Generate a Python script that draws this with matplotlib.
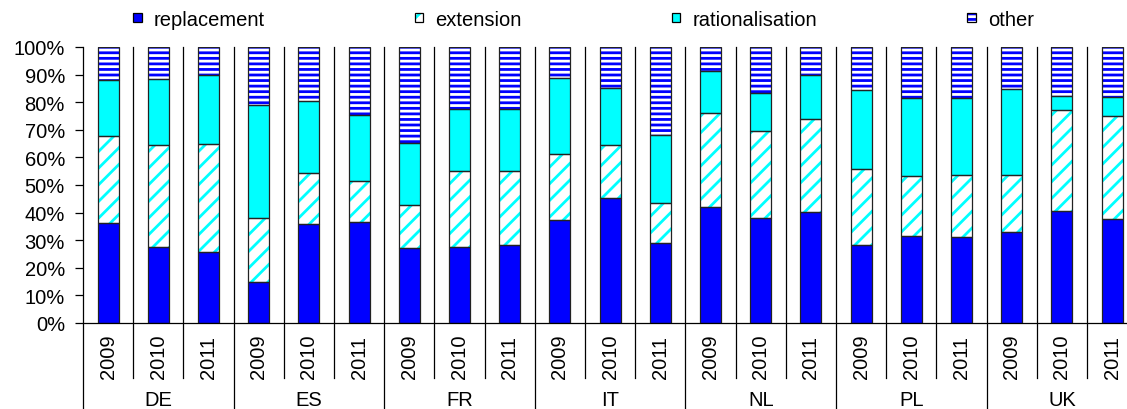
import numpy as np
import matplotlib.pyplot as plt
from matplotlib.patches import Patch
from matplotlib.transforms import blended_transform_factory

plt.rcParams['font.family'] = ['Liberation Sans', 'DejaVu Sans']
plt.rcParams['hatch.linewidth'] = 2.0

countries = ['DE', 'ES', 'FR', 'IT', 'NL', 'PL', 'UK']
years = ['2009', '2010', '2011']

# shares in %, one entry per country/year (DE 2009 ... UK 2011)
replacement = [36.2, 27.4, 25.6, 14.8, 35.7, 36.5, 27.1, 27.4, 28.1, 37.4, 45.3,
               28.9, 42.0, 38.1, 40.1, 28.1, 31.4, 31.1, 32.9, 40.5, 37.6]
extension = [31.6, 37.2, 39.3, 23.2, 18.8, 14.8, 15.8, 27.5, 26.8, 23.9, 19.3,
             14.4, 33.9, 31.3, 33.8, 27.6, 21.9, 22.6, 20.8, 36.6, 37.4]
rationalisation = [20.1, 23.8, 24.8, 41.1, 25.8, 24.2, 22.4, 22.5, 22.5, 27.5, 20.5,
                   24.9, 15.3, 14.0, 15.8, 28.6, 28.2, 27.8, 30.9, 5.1, 6.9]
other = [12.1, 11.6, 10.3, 20.9, 19.7, 24.5, 34.7, 22.6, 22.6, 11.2, 14.9,
         31.8, 8.8, 16.6, 10.3, 15.7, 18.5, 18.5, 15.4, 17.8, 18.1]

series = [
    ('replacement', replacement, '#0000FF', '#0000FF', None),
    ('extension', extension, 'white', '#00FFFF', '//'),
    ('rationalisation', rationalisation, '#00FFFF', '#00FFFF', None),
    ('other', other, 'white', '#0000FF', '---'),
]

FS = 14.5
n = len(countries) * len(years)
x = np.arange(n)
width = 0.42

fig = plt.figure(figsize=(11.27, 4.10), dpi=100)
ax = fig.add_axes([0.0736, 0.2098, 0.9355, 0.6732])

bottom = np.zeros(n)
handles = []
for name, vals, face, hcol, hatch in series:
    vals = np.array(vals)
    # fill + hatch in the series colour, then a dark outline on top
    ax.bar(x, vals, width, bottom=bottom, color=face, edgecolor=hcol,
           hatch=hatch, linewidth=0, zorder=2)
    ax.bar(x, vals, width, bottom=bottom, fill=False, edgecolor='#222222',
           linewidth=0.9, zorder=3)
    bottom += vals
    handles.append((Patch(facecolor=face, edgecolor=hcol, hatch=hatch, linewidth=0),
                    Patch(fill=False, edgecolor='black', linewidth=0.9)))

ax.set_xlim(-0.5, n - 0.5)
ax.set_ylim(0, 100)
ax.set_yticks(np.arange(0, 101, 10))
ax.set_yticklabels([f'{v}%' for v in range(0, 101, 10)])
ax.tick_params(axis='y', length=6, width=0.9, pad=7, labelsize=FS)
ax.set_xticks([])
for s in ['top', 'right']:
    ax.spines[s].set_visible(False)
ax.spines['left'].set_visible(False)
ax.spines['bottom'].set_linewidth(0.9)

# category separators, running down through the label area
trans = blended_transform_factory(ax.transData, ax.transAxes)
for k in range(n + 1):
    xb = k - 0.5
    y0 = -0.32 if k % 3 == 0 else -0.199
    ax.plot([xb, xb], [y0, 1.0], color='black', lw=0.9, transform=trans,
            clip_on=False, zorder=4)

for i in range(n):
    ax.text(i, -0.12, years[i % 3], rotation=90, ha='center', va='center',
            fontsize=FS, transform=trans)
for j, c in enumerate(countries):
    ax.text(3 * j + 1, -0.278, c, ha='center', va='center', fontsize=FS,
            transform=trans)

fig.legend(handles, [s[0] for s in series], loc='center',
           bbox_to_anchor=(0.5177, 0.951), ncol=4, frameon=False, fontsize=FS,
           handlelength=0.42, handleheight=0.32, handletextpad=0.6,
           columnspacing=7.45, borderpad=0)

fig.savefig('out.png', dpi=100)
